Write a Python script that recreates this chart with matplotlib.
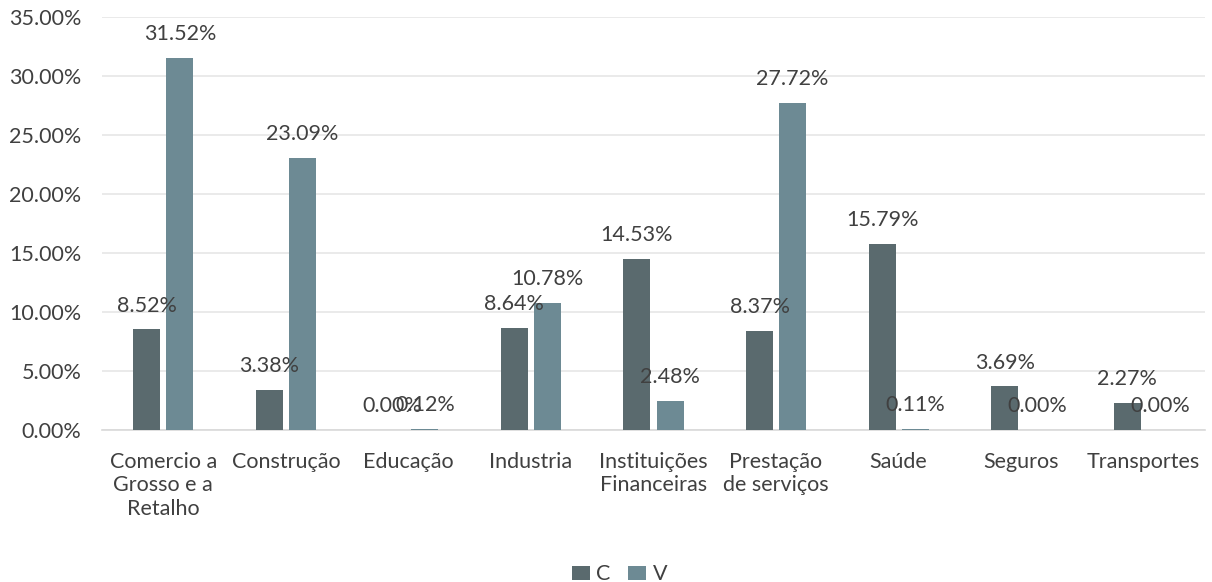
import matplotlib.pyplot as plt
import numpy as np
from matplotlib.ticker import FuncFormatter

# share of each sector, C vs V (in %)
setores = ["Comercio a\nGrosso e a\nRetalho", "Construção", "Educação", "Industria",
           "Instituições\nFinanceiras", "Prestação\nde serviços", "Saúde", "Seguros",
           "Transportes"]
valores_c = [8.52, 3.38, 0.00, 8.64, 14.53, 8.37, 15.79, 3.69, 2.27]
valores_v = [31.52, 23.09, 0.12, 10.78, 2.48, 27.72, 0.11, 0.00, 0.00]

cor_c = "#5a6a6e"
cor_v = "#6d8a94"
cor_texto = "#404040"
tam = 15.5

plt.rcParams['font.family'] = ['Lato', 'DejaVu Sans']

fig = plt.figure(figsize=(12.12, 5.82), dpi=100)
ax = fig.add_axes([102 / 1212, 152 / 582, 1103 / 1212, 413 / 582])

x = np.arange(len(setores))
largura = 0.22
desloc = 0.135

barras_c = ax.bar(x - desloc, valores_c, width=largura, color=cor_c, label="C", zorder=3)
barras_v = ax.bar(x + desloc, valores_v, width=largura, color=cor_v, label="V", zorder=3)

# value labels above each bar
for barras, valores in ((barras_c, valores_c), (barras_v, valores_v)):
    for b, v in zip(barras, valores):
        ax.annotate("%.2f%%" % v, (b.get_x() + b.get_width() / 2, v),
                    xytext=(0, 10), textcoords="offset points",
                    ha="center", va="bottom", fontsize=tam, color=cor_texto, zorder=4)

ax.set_xlim(-0.5, len(setores) - 0.5)
ax.set_ylim(0, 35)
ax.set_yticks(np.arange(0, 36, 5))
ax.yaxis.set_major_formatter(FuncFormatter(lambda v, p: "%.2f%%" % v))
ax.grid(axis="y", color="#e6e6e6", linewidth=1.2, zorder=0)
ax.set_xticks(x)
ax.set_xticklabels(setores, ha="center", va="top", linespacing=1.2)

for lado in ["top", "right", "left"]:
    ax.spines[lado].set_visible(False)
ax.spines["bottom"].set_color("#d9d9d9")
ax.spines["bottom"].set_linewidth(1.2)
ax.tick_params(axis="both", length=0, labelsize=tam, colors=cor_texto)
ax.tick_params(axis="x", pad=16)
ax.tick_params(axis="y", pad=15)

fig.legend(loc="lower center", bbox_to_anchor=(0.511, -0.03), ncol=2, frameon=False,
           fontsize=tam, labelcolor=cor_texto, handlelength=0.85, handleheight=0.65,
           handletextpad=0.3, columnspacing=0.8, borderpad=0.2)

fig.savefig("out.png", dpi=100)
